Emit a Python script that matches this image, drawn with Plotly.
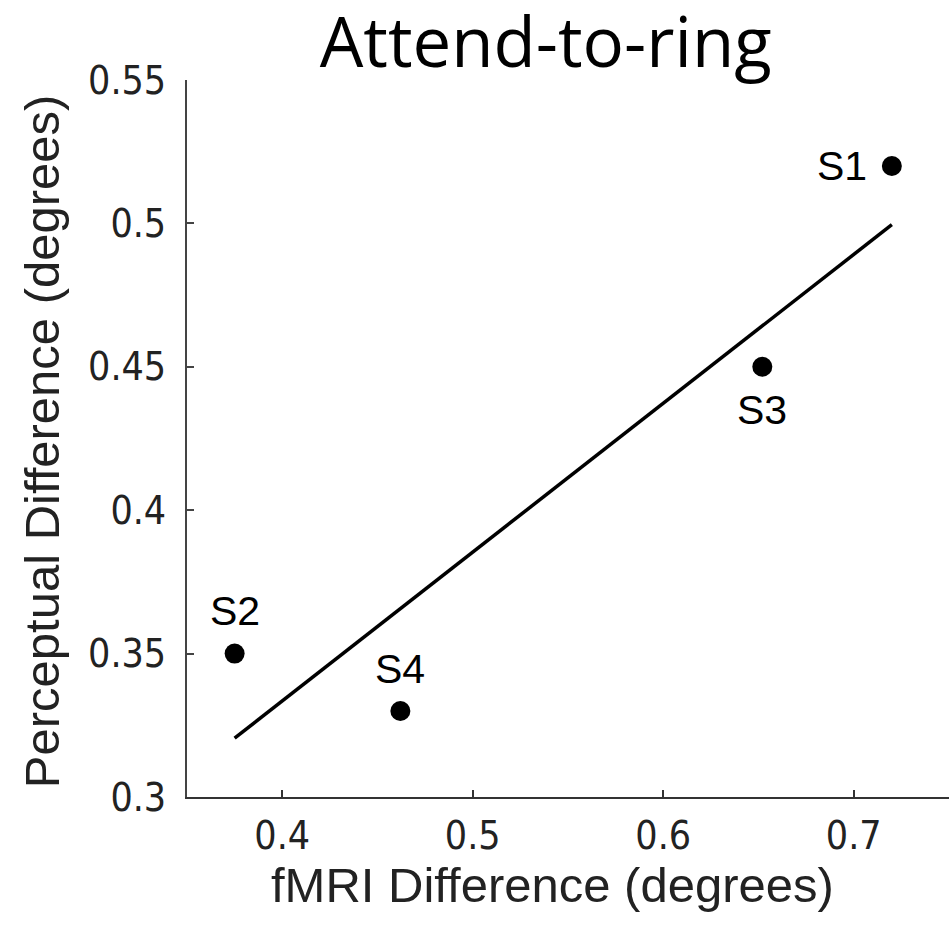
import numpy as np
import plotly.graph_objects as go

subjects = ["S1", "S2", "S3", "S4"]
fmri_diff = [0.72, 0.375, 0.652, 0.462]
percept_diff = [0.52, 0.35, 0.45, 0.33]
label_xshift = [-50, 0, 0, 0]
label_yshift = [0, 43, -43, 42]

x_ticks = [0.4, 0.5, 0.6, 0.7]
y_ticks = [0.3, 0.35, 0.4, 0.45, 0.5, 0.55]

slope, intercept = np.polyfit(fmri_diff, percept_diff, 1)
fit_x = np.array([min(fmri_diff), max(fmri_diff)])
fit_y = slope * fit_x + intercept

fig = go.Figure()
fig.add_trace(go.Scatter(x=fit_x, y=fit_y, mode="lines",
                         line=dict(color="black", width=3.5), showlegend=False))
fig.add_trace(go.Scatter(x=fmri_diff, y=percept_diff, mode="markers",
                         marker=dict(color="black", size=20), showlegend=False))

for s, x, y, dx, dy in zip(subjects, fmri_diff, percept_diff, label_xshift, label_yshift):
    fig.add_annotation(x=x, y=y, text=s, showarrow=False, xshift=dx, yshift=dy,
                       font=dict(family="Liberation Sans, Arial", size=41, color="black"))

tick_font = dict(family="DejaVu Sans Condensed, DejaVu Sans, Verdana", size=39, color="#222")
title_font = dict(family="Liberation Sans, Arial", size=49, color="#222")

# axis titles
fig.add_annotation(x=0.48, y=-0.1227, xref="paper", yref="paper", text="fMRI Difference (degrees)",
                   showarrow=False, xanchor="center", yanchor="middle", font=title_font)
fig.add_annotation(x=-0.19, y=0.4965, xref="paper", yref="paper", text="Perceptual Difference (degrees)",
                   showarrow=False, xanchor="center", yanchor="middle", textangle=-90, font=title_font)

fig.update_layout(
    width=949, height=937,
    margin=dict(l=187, r=0, t=80, b=140),
    paper_bgcolor="white", plot_bgcolor="white",
    title=dict(text="Attend-to-ring", x=0.575, xanchor="center", y=0.954, yanchor="middle",
               font=dict(family="Open Sans", size=69, color="black")),
    xaxis=dict(range=[0.35, 0.75], tickvals=x_ticks, ticktext=[str(v) for v in x_ticks],
               showgrid=False, zeroline=False, showline=True, linecolor="#333", linewidth=2,
               ticks="inside", ticklen=7, tickwidth=2, tickcolor="#333",
               tickfont=tick_font, ticklabelstandoff=3),
    yaxis=dict(range=[0.3, 0.55], tickvals=y_ticks, ticktext=[str(v) for v in y_ticks],
               showgrid=False, zeroline=False, showline=True, linecolor="#444", linewidth=2,
               ticks="inside", ticklen=7, tickwidth=2, tickcolor="#444",
               tickfont=tick_font, ticklabelstandoff=11),
)

fig.write_html("out.html")
